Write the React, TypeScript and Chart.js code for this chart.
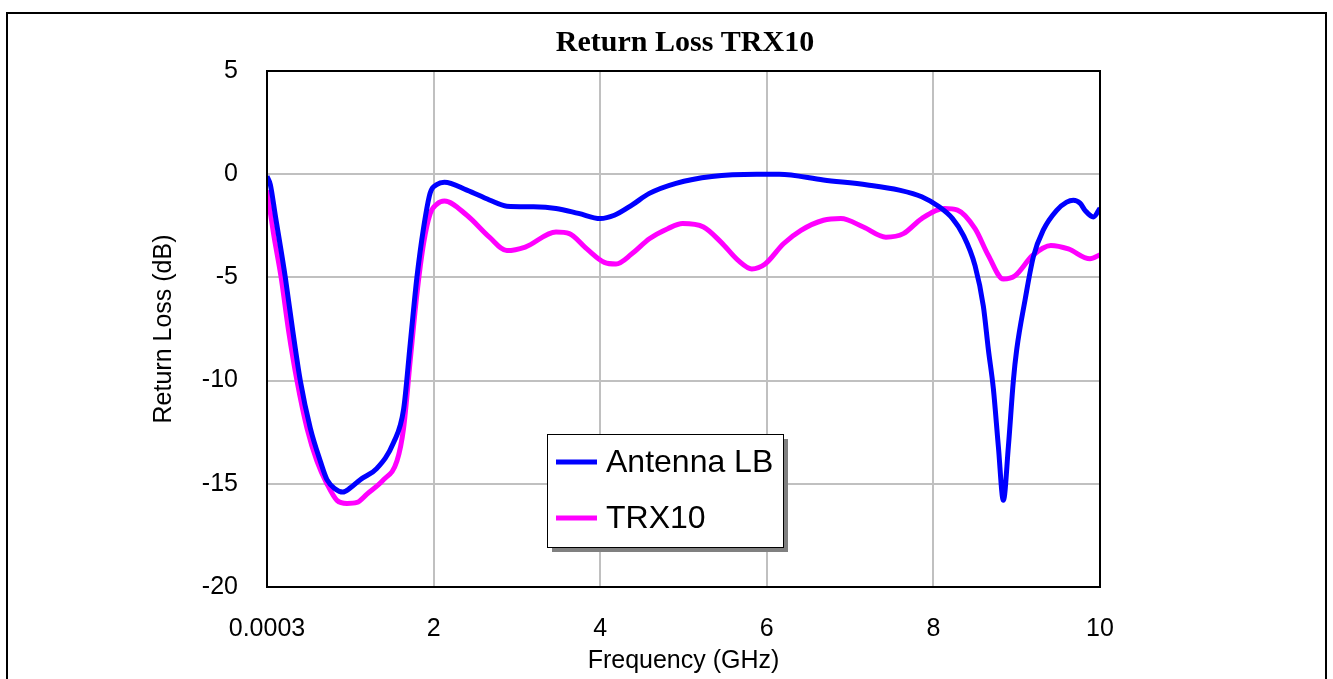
import React, { useEffect, useRef } from "react";
import { Chart, registerables } from "chart.js";

Chart.register(...registerables);

const TITLE = "Return Loss TRX10";
const X_TITLE = "Frequency (GHz)";
const Y_TITLE = "Return Loss (dB)";
const X_TICKS = [0.0003, 2, 4, 6, 8, 10];
const SERIES_NAMES = ["Antenna LB", "TRX10"];
const SERIES_COLORS = ["#0000FF", "#FF00FF"];

const freqA = [0.0003, 0.04, 0.1, 0.22, 0.31, 0.4, 0.52, 0.64, 0.72, 0.82, 0.91, 1.0, 1.12, 1.32, 1.52, 1.64, 1.72, 1.8, 1.88, 1.96, 2.04, 2.13, 2.4, 2.67, 2.88, 3.2, 3.47, 3.74, 4.0, 4.17, 4.38, 4.59, 4.91, 5.34, 5.88, 6.15, 6.68, 7.21, 7.59, 7.86, 8.07, 8.23, 8.36, 8.5, 8.6, 8.66, 8.72, 8.78, 8.84, 8.9, 8.96, 9.0, 9.1, 9.2, 9.32, 9.48, 9.6, 9.68, 9.76, 9.82, 9.92, 10.0];
const lossA = [-0.1, -0.5, -2.0, -5.0, -7.6, -10.0, -12.3, -13.9, -14.8, -15.25, -15.4, -15.2, -14.8, -14.25, -13.0, -11.4, -8.2, -5.0, -2.6, -0.9, -0.5, -0.39, -0.77, -1.25, -1.55, -1.58, -1.66, -1.9, -2.15, -1.99, -1.5, -0.93, -0.44, -0.11, 0.0, 0.0, -0.28, -0.52, -0.77, -1.09, -1.58, -2.15, -2.96, -4.43, -6.4, -8.5, -10.4, -13.2, -15.8, -13.2, -10.0, -8.5, -6.1, -4.0, -2.7, -1.75, -1.35, -1.26, -1.4, -1.75, -2.07, -1.65];

const freqB = [0.0003, 0.08, 0.17, 0.26, 0.36, 0.48, 0.6, 0.72, 0.84, 0.96, 1.08, 1.2, 1.4, 1.56, 1.64, 1.72, 1.8, 1.88, 1.96, 2.04, 2.13, 2.4, 2.67, 2.88, 3.1, 3.47, 3.63, 3.84, 4.05, 4.19, 4.38, 4.59, 4.81, 4.99, 5.24, 5.45, 5.66, 5.82, 5.98, 6.2, 6.41, 6.68, 6.89, 7.16, 7.43, 7.64, 7.86, 8.13, 8.29, 8.5, 8.66, 8.84, 8.98, 9.19, 9.41, 9.62, 9.88, 10.0];
const lossB = [-0.78, -2.9, -5.0, -7.6, -10.0, -12.3, -13.9, -15.0, -15.8, -15.95, -15.9, -15.5, -14.8, -13.9, -12.3, -9.0, -5.8, -3.35, -1.9, -1.45, -1.3, -1.99, -3.05, -3.7, -3.53, -2.8, -2.88, -3.62, -4.27, -4.35, -3.86, -3.13, -2.64, -2.39, -2.56, -3.29, -4.19, -4.59, -4.35, -3.37, -2.72, -2.23, -2.15, -2.56, -3.05, -2.88, -2.15, -1.66, -1.74, -2.64, -3.94, -5.08, -4.92, -3.94, -3.45, -3.62, -4.1, -3.9];

const SANS = '"Liberation Sans", Arial, sans-serif';
const SERIF = '"Liberation Serif", "Times New Roman", serif';

const decorPlugin = {
  id: "decor",
  afterDraw(chart: any) {
    const ctx = chart.ctx;
    const a = chart.chartArea;
    ctx.save();
    // outer frame
    ctx.strokeStyle = "#000";
    ctx.lineWidth = 2;
    ctx.beginPath();
    ctx.moveTo(7, 690);
    ctx.lineTo(7, 13);
    ctx.lineTo(1326, 13);
    ctx.lineTo(1326, 690);
    ctx.stroke();
    // plot border
    ctx.strokeRect(a.left, a.top, a.right - a.left, a.bottom - a.top);
    // title
    ctx.fillStyle = "#000";
    ctx.font = `bold 30px ${SERIF}`;
    ctx.textAlign = "center";
    ctx.textBaseline = "middle";
    ctx.fillText(TITLE, 685, 43);
    // axis titles
    ctx.font = `25px ${SANS}`;
    ctx.fillText(X_TITLE, (a.left + a.right) / 2, 661);
    ctx.save();
    ctx.translate(164, (a.top + a.bottom) / 2);
    ctx.rotate(-Math.PI / 2);
    ctx.fillText(Y_TITLE, 0, 0);
    ctx.restore();
    // legend
    const lx = 547, ly = 434, lw = 236, lh = 113;
    ctx.fillStyle = "#808080";
    ctx.fillRect(lx + 5, ly + 5, lw, lh);
    ctx.fillStyle = "#fff";
    ctx.fillRect(lx, ly, lw, lh);
    ctx.strokeStyle = "#000";
    ctx.lineWidth = 1;
    ctx.strokeRect(lx + 0.5, ly + 0.5, lw, lh);
    ctx.font = `32px ${SANS}`;
    ctx.textAlign = "left";
    ctx.textBaseline = "middle";
    SERIES_NAMES.forEach((name, i) => {
      const yy = i === 0 ? 462 : 518;
      ctx.strokeStyle = SERIES_COLORS[i];
      ctx.lineWidth = 5;
      ctx.beginPath();
      ctx.moveTo(556, yy);
      ctx.lineTo(597, yy);
      ctx.stroke();
      ctx.fillStyle = "#000";
      ctx.fillText(name, 606, yy + 1);
    });
    ctx.restore();
  },
};

export default function App() {
  const ref = useRef<HTMLCanvasElement>(null);
  useEffect(() => {
    if (!ref.current) return;
    const mk = (fs: number[], ls: number[]) => fs.map((f, i) => ({ x: f, y: ls[i] }));
    const chart = new Chart(ref.current, {
      type: "line",
      data: {
        datasets: [
          {
            label: SERIES_NAMES[0],
            data: mk(freqA, lossA),
            borderColor: SERIES_COLORS[0],
            backgroundColor: SERIES_COLORS[0],
            borderWidth: 5,
            pointRadius: 0,
            cubicInterpolationMode: "monotone",
            order: 0,
          },
          {
            label: SERIES_NAMES[1],
            data: mk(freqB, lossB),
            borderColor: SERIES_COLORS[1],
            backgroundColor: SERIES_COLORS[1],
            borderWidth: 5,
            pointRadius: 0,
            cubicInterpolationMode: "monotone",
            order: 1,
          },
        ] as any,
      },
      options: {
        responsive: false,
        animation: false,
        devicePixelRatio: 1,
        layout: { padding: { left: 0, right: 233, top: 71, bottom: 0 } },
        plugins: { legend: { display: false }, title: { display: false }, tooltip: { enabled: false } },
        scales: {
          x: {
            type: "linear",
            min: 0.0003,
            max: 10,
            afterFit: (s: any) => { s.height = 92; },
            afterBuildTicks: (s: any) => { s.ticks = X_TICKS.map((v) => ({ value: v })); },
            ticks: {
              color: "#000",
              font: { family: SANS, size: 25 },
              padding: 27,
              maxRotation: 0,
              autoSkip: false,
              callback: (v: any) => (v === 0.0003 ? "0.0003" : String(v)),
            },
            grid: { color: "#c0c0c0", lineWidth: 2, drawTicks: false },
            border: { display: false },
          },
          y: {
            min: -20,
            max: 5,
            afterFit: (s: any) => { s.width = 267; },
            ticks: {
              stepSize: 5,
              color: "#000",
              font: { family: SANS, size: 25 },
              padding: 29,
            },
            grid: { color: "#c0c0c0", lineWidth: 2, drawTicks: false },
            border: { display: false },
          },
        },
      },
      plugins: [decorPlugin],
    });
    return () => chart.destroy();
  }, []);
  return (
    <div style={{ position: "absolute", left: 0, top: 0, width: 1333, height: 679, background: "#fff" }}>
      <canvas ref={ref} width={1333} height={679} style={{ display: "block" }} />
    </div>
  );
}
